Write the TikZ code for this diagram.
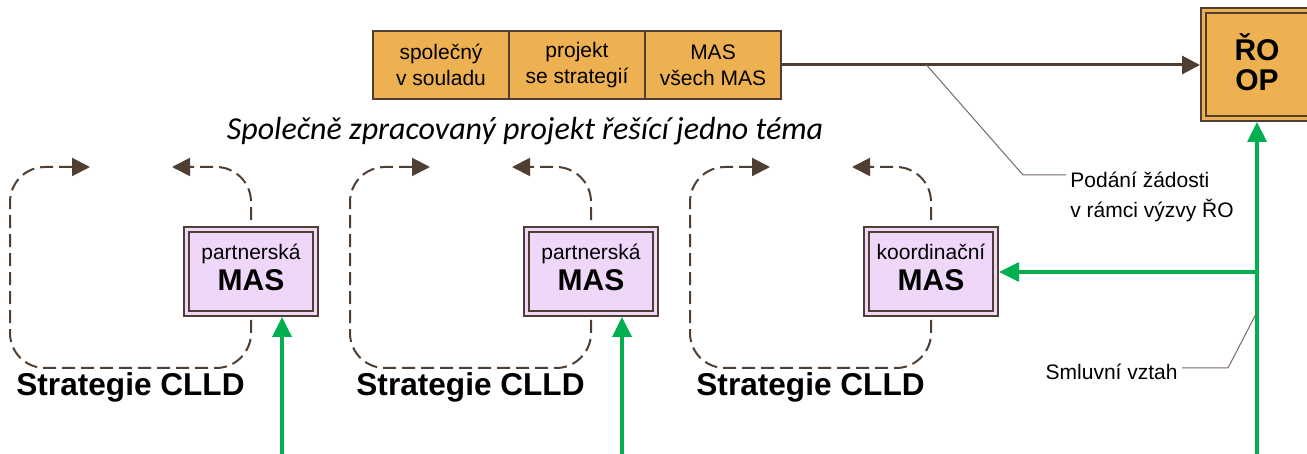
\documentclass[tikz,border=0pt]{standalone}
\usepackage{fontspec}
\setmainfont{Liberation Sans}
\newfontfamily\calibri{Carlito}
\usepackage{tikz}
\usetikzlibrary{positioning}
\usetikzlibrary{arrows.meta,calc}
\definecolor{masorange}{RGB}{237,177,82}
\definecolor{masbrown}{RGB}{80,62,50}
\definecolor{maslila}{RGB}{239,215,250}
\definecolor{masgreen}{RGB}{0,176,80}
\definecolor{leadgray}{RGB}{120,105,95}

\begin{document}
\begin{tikzpicture}[x=0.5pt, y=-0.5pt,
  cell/.style = {rectangle, draw=masbrown, line width=1pt, fill=masorange,
    minimum width=68pt, minimum height=34pt, inner sep=0pt, outer sep=0pt,
    align=center, font=\fontsize{10.5}{13}\selectfont},
  masbox/.style = {rectangle, draw=masbrown, line width=0.9pt,
    double=maslila, double distance=1.6pt, fill=maslila,
    minimum width=64.6pt, minimum height=42pt, inner sep=0pt, outer sep=1.7pt,
    align=center, font=\fontsize{15}{15}\selectfont},
  robox/.style = {masbox, double=masorange, fill=masorange,
    minimum width=53.6pt, minimum height=54pt, font=\fontsize{15}{15.5}\selectfont\bfseries},
  strat/.style = {inner sep=0pt, anchor=west, font=\fontsize{15.8}{18}\selectfont\bfseries},
  note/.style = {inner sep=2pt, align=left, font=\fontsize{10.5}{15}\selectfont},
  loopline/.style = {draw=masbrown, line width=1pt, dash pattern=on 6.5pt off 3pt,
    rounded corners=17.5pt, -{Triangle[length=9pt,width=9pt]}},
  mainarrow/.style = {draw=masbrown, line width=1.5pt, -{Triangle[length=9pt,width=9pt]}},
  greenline/.style = {draw=masgreen, line width=1.6pt, -{Triangle[length=10pt,width=9.5pt]}},
  leader/.style = {draw=leadgray, line width=0.5pt}
  ]
  \useasboundingbox (0,0) rectangle (1307,454);

  % spolecny projekt
  \node[cell] (c1) at (441,65) {společný\\v souladu};
  \node[cell, right=0pt of c1] (c2) {projekt\\se strategií};
  \node[cell, right=0pt of c2] (c3) {MAS\\všech MAS};
  \node[font=\calibri\itshape\fontsize{16}{19}\selectfont] (tema) at (525,131)
    {Společně zpracovaný projekt řešící jedno téma};

  \node[robox] (ro) at (1257,64.5) {ŘO\\[-0.5pt]OP\rule[-2pt]{0pt}{2pt}};
  \draw[mainarrow] (c3.east) -- (c3.east -| ro.west);

  % MAS a jejich strategie
  \foreach \n/\ox/\kind in {1/0/partnerská, 2/340/partnerská, 3/680/koordinační} {
    \node[masbox] (mas\n) at (251+\ox,271.5)
      {{\fontsize{10.5}{12}\selectfont \kind}\\[0.5pt]\textbf{MAS}\rule[-4pt]{0pt}{4pt}};
    \draw[loopline] ([yshift=-1.5pt]mas\n.south) |- (10+\ox,368) |- (90+\ox,167);
    \draw[loopline] ([yshift=3pt]mas\n.north) |- (172+\ox,167);
    \node[strat] (strat\n) at (16+\ox,387) {Strategie CLLD};
  }

  % smluvni vztahy
  \coordinate (gin1) at (282,454);
  \coordinate (gin2) at (622,454);
  \draw[greenline] (gin1) -- (gin1 |- mas1.south);
  \draw[greenline] (gin2) -- (gin2 |- mas2.south);
  \coordinate (gout) at (1257,454);
  \coordinate (gsplit) at (1257,272);
  \draw[greenline] (gout) -- (ro.south);
  \draw[greenline] (gsplit) -- (gsplit -| mas3.east);

  % popisky
  \node[note, anchor=west] (podani) at (1066,197) {Podání žádosti\\v rámci výzvy ŘO};
  \draw[leader] ($(c3.east)!0.347!(ro.west)$) -- (1023,175) -- (podani.west |- 1023,175);
  \node[note, anchor=east, font=\fontsize{10.5}{12}\selectfont] (smluv) at (1182,372) {Smluvní vztah};
  \coordinate (sv) at (1257,312);
  \draw[leader] (sv) -- (1228,368) -- (smluv.east |- 1228,368);
\end{tikzpicture}
\end{document}
